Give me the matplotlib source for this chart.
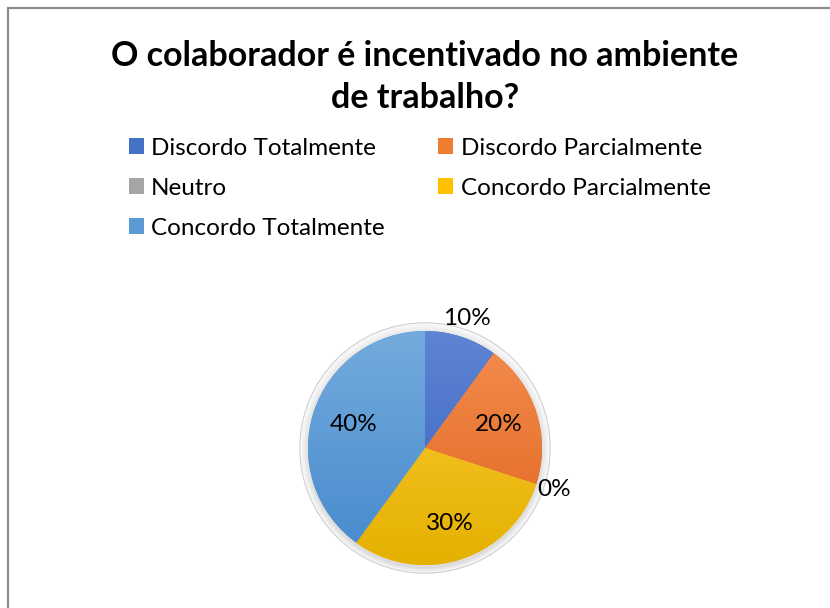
import matplotlib
matplotlib.use('Agg')
import matplotlib.pyplot as plt
import numpy as np
from matplotlib.patches import Rectangle, Circle, Patch
from matplotlib.colors import LinearSegmentedColormap

plt.rcParams['font.family'] = ['Lato', 'DejaVu Sans']

title = 'O colaborador é incentivado no ambiente\nde trabalho?'
categories = ['Discordo Totalmente', 'Discordo Parcialmente', 'Neutro',
              'Concordo Parcialmente', 'Concordo Totalmente']
values = [10, 20, 0, 30, 40]
pct_labels = ['10%', '20%', '0%', '30%', '40%']

# light (top) / dark (bottom) shades of each slice
top_colors = ['#5f84d3', '#f48d50', '#b0b0b0', '#ffcb38', '#74abdd']
bot_colors = ['#3461bf', '#df651c', '#8c8c8c', '#e4b100', '#4589cd']
mid_colors = ['#4472c4', '#ed7d31', '#a5a5a5', '#ffc000', '#5b9bd5']
label_dist = [1.16, 0.66, 1.16, 0.68, 0.64]

fig = plt.figure(figsize=(8.3, 6.08), dpi=100)
W, H = 830, 608

# chart frame
fig.patches.append(Rectangle((8 / W, -0.05), 1.1, 1 - 8 / H + 0.05,
                             transform=fig.transFigure, fill=False,
                             edgecolor='#8c8c8c', linewidth=1.6))

fig.text(425 / W, 1 - 77 / H, title, ha='center', va='center',
         fontsize=24.5, fontweight='bold', linespacing=1.4)

# pie axes centred on (425, 448) px, radius 117 px
r_px = 117
half = r_px * 1.3
ax = fig.add_axes([(425 - half) / W, (H - 448 - half) / H, 2 * half / W, 2 * half / H])
ax.axis('off')

# soft shadow / glow around the pie
for i, rr in enumerate(np.linspace(1.07, 1.0, 7)):
    ax.add_patch(Circle((0, -0.005 * i), rr, facecolor='#000000',
                        alpha=0.018, edgecolor='none', zorder=0))
ax.add_patch(Circle((0, 0), 1.07, facecolor='none', edgecolor='#cfcfcf',
                    linewidth=0.8, zorder=0))

wedges, _ = ax.pie(values, colors=mid_colors, startangle=90, counterclock=False,
                   radius=1.0, wedgeprops=dict(linewidth=0))
ax.set_xlim(-1.3, 1.3)
ax.set_ylim(-1.3, 1.3)
ax.set_aspect('equal')

grad = np.linspace(0, 1, 256).reshape(-1, 1)
for w, c1, c2 in zip(wedges, top_colors, bot_colors):
    w.set_zorder(2)
    cmap = LinearSegmentedColormap.from_list('g', [c1, c2])
    im = ax.imshow(grad, cmap=cmap, extent=[-1, 1, -1, 1], aspect='auto',
                   origin='upper', zorder=3)
    im.set_clip_path(w)

for w, lab, d in zip(wedges, pct_labels, label_dist):
    ang = np.deg2rad((w.theta1 + w.theta2) / 2)
    ax.text(d * np.cos(ang), d * np.sin(ang), lab, ha='center', va='center',
            fontsize=17.5, color='#000000', zorder=5)

# legend fills row by row in the reference: reorder for column-wise filling
order = [0, 2, 4, 1, 3]
handles = [Patch(facecolor=mid_colors[i], edgecolor='none') for i in order]
labels = [categories[i] for i in order]
fig.legend(handles, labels, ncol=2, loc='upper left',
           bbox_to_anchor=(119 / W, 1 - 128 / H), frameon=False, fontsize=17.5,
           handlelength=0.62, handleheight=0.62, handletextpad=0.3,
           columnspacing=2.2, labelspacing=0.78, borderaxespad=0)

fig.savefig('out.png', dpi=100)
